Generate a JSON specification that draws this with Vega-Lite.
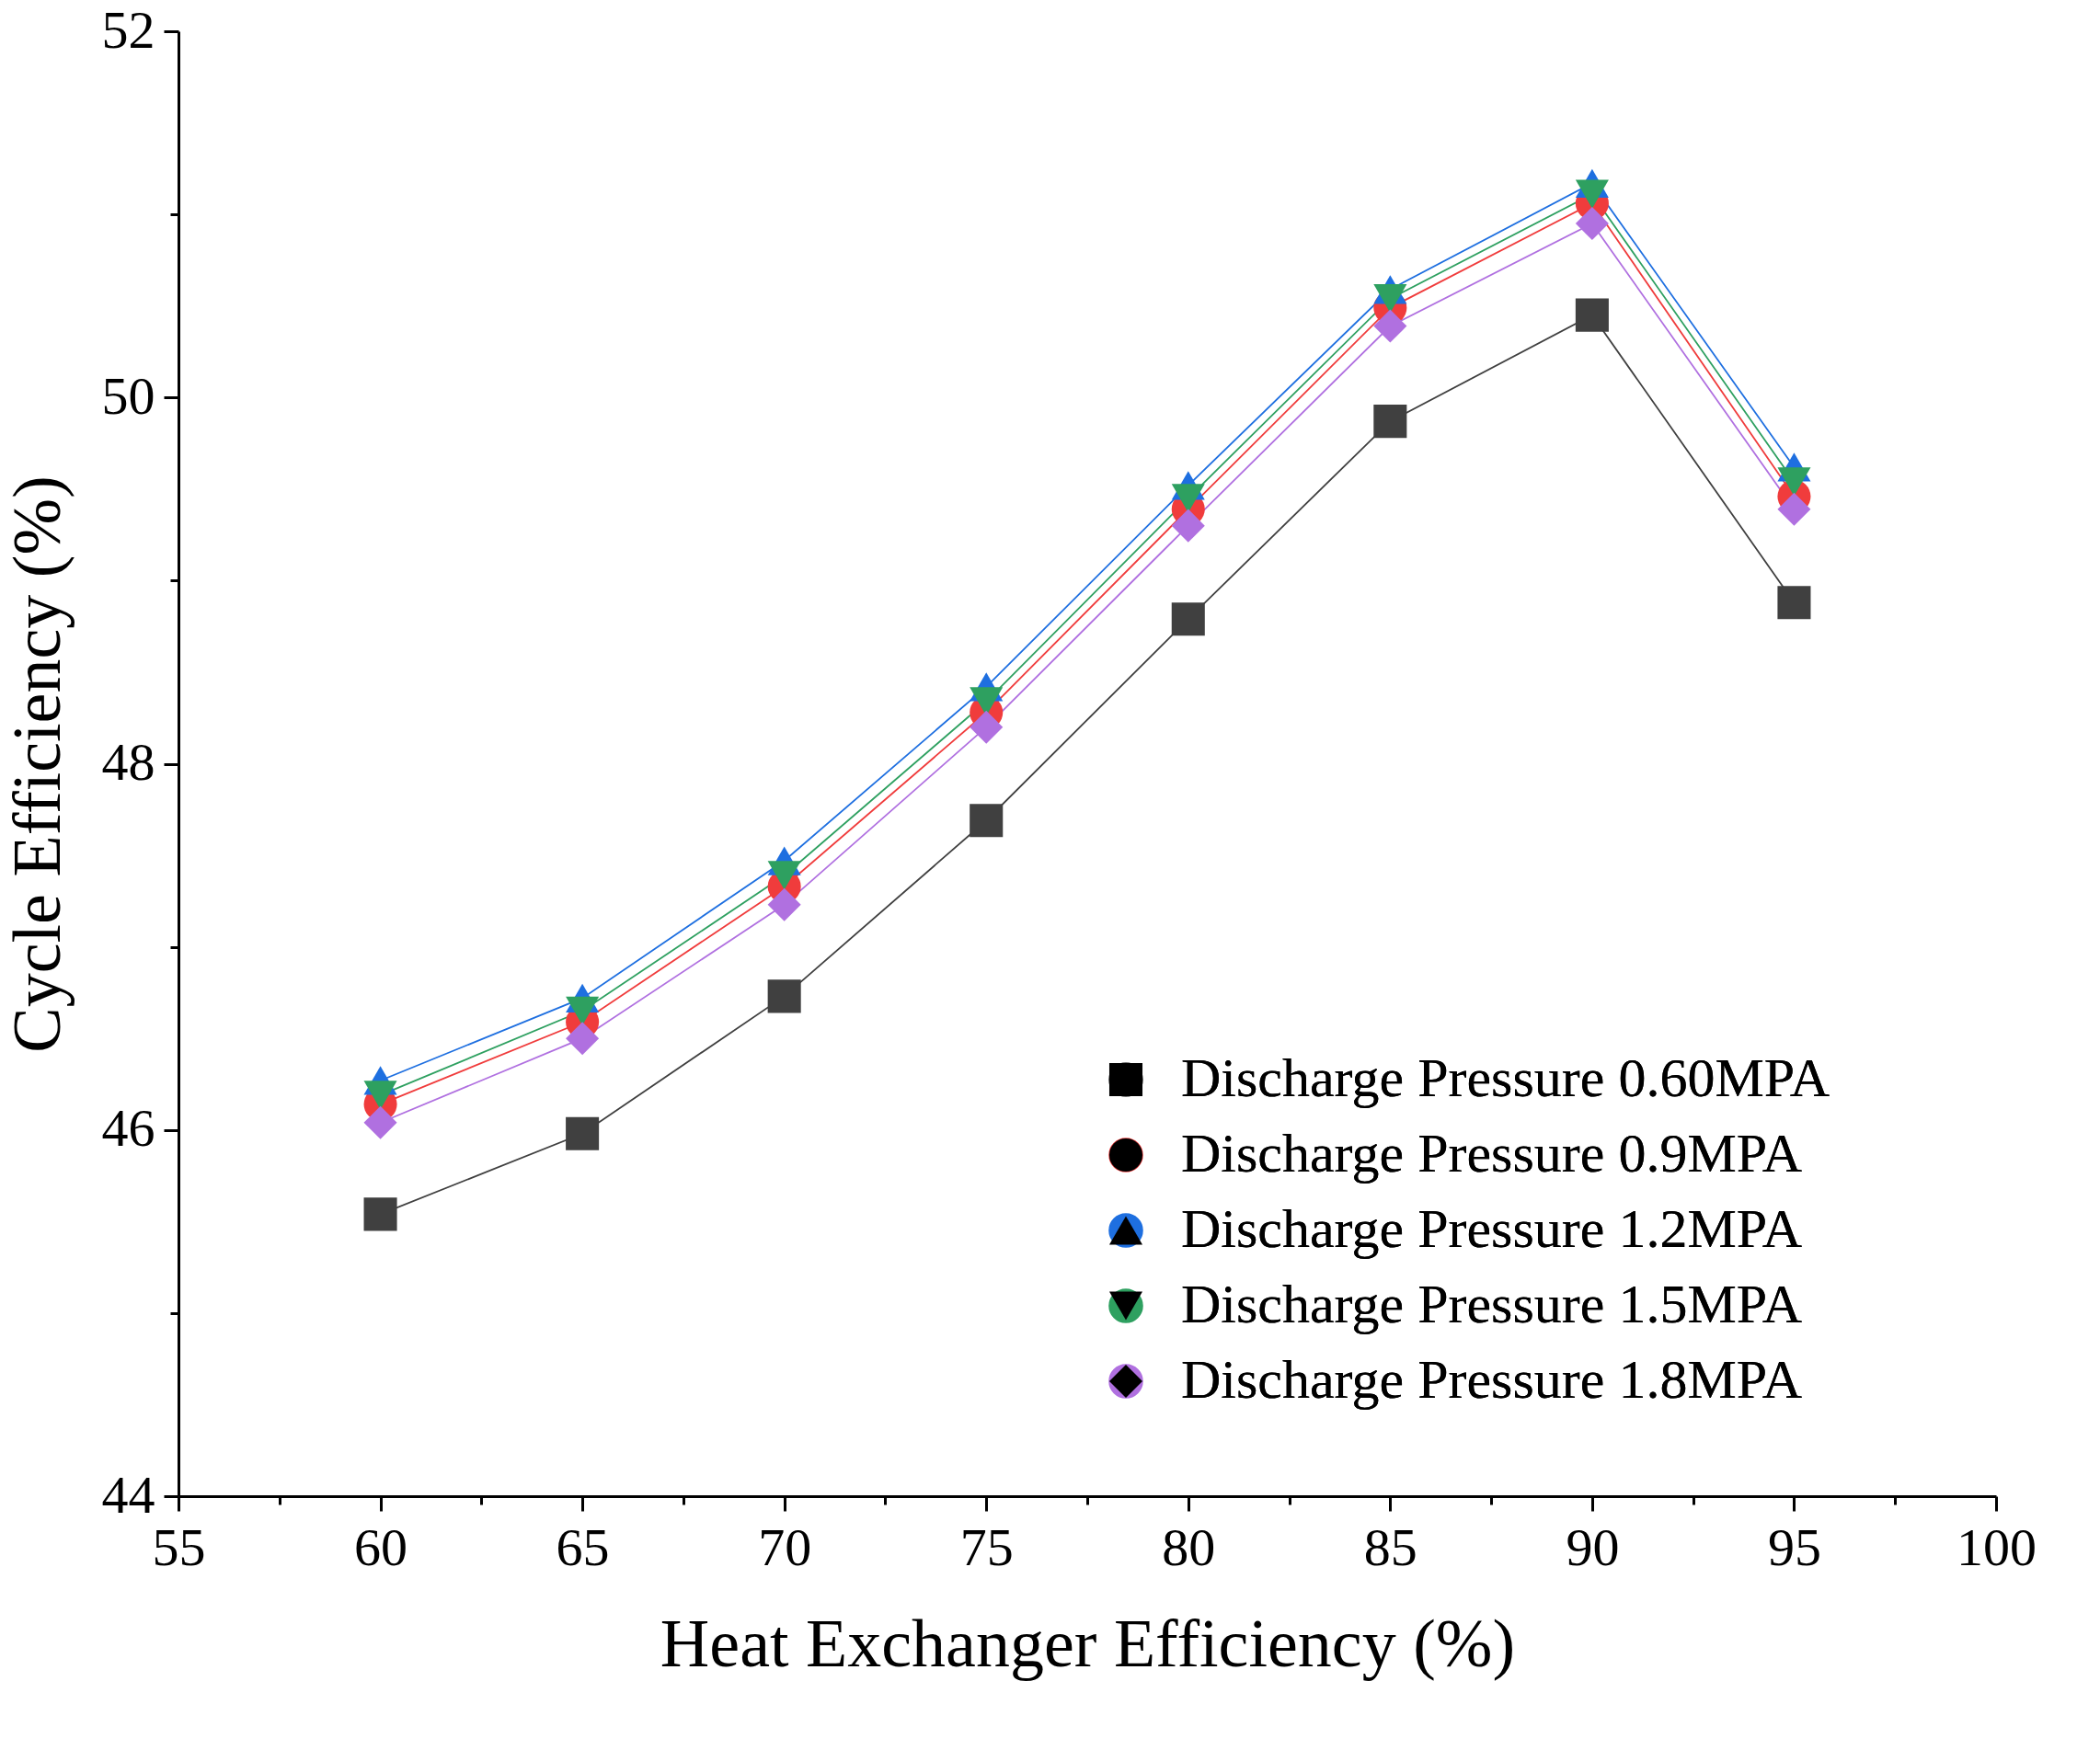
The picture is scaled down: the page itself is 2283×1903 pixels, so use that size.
{
"$schema":"https://vega.github.io/schema/vega-lite/v6.json",
"width":1976,"height":1593,
"background":"white",
"config":{"view":{"stroke":null},"font":"Liberation Serif"},
"data":{"values":[
{"x":60,"s":"Discharge Pressure 0.60MPA","y":45.54},{"x":65,"s":"Discharge Pressure 0.60MPA","y":45.98},{"x":70,"s":"Discharge Pressure 0.60MPA","y":46.73},{"x":75,"s":"Discharge Pressure 0.60MPA","y":47.69},{"x":80,"s":"Discharge Pressure 0.60MPA","y":48.79},{"x":85,"s":"Discharge Pressure 0.60MPA","y":49.87},{"x":90,"s":"Discharge Pressure 0.60MPA","y":50.45},{"x":95,"s":"Discharge Pressure 0.60MPA","y":48.88},
{"x":60,"s":"Discharge Pressure 0.9MPA","y":46.14},{"x":65,"s":"Discharge Pressure 0.9MPA","y":46.59},{"x":70,"s":"Discharge Pressure 0.9MPA","y":47.33},{"x":75,"s":"Discharge Pressure 0.9MPA","y":48.28},{"x":80,"s":"Discharge Pressure 0.9MPA","y":49.39},{"x":85,"s":"Discharge Pressure 0.9MPA","y":50.49},{"x":90,"s":"Discharge Pressure 0.9MPA","y":51.06},{"x":95,"s":"Discharge Pressure 0.9MPA","y":49.46},
{"x":60,"s":"Discharge Pressure 1.2MPA","y":46.27},{"x":65,"s":"Discharge Pressure 1.2MPA","y":46.72},{"x":70,"s":"Discharge Pressure 1.2MPA","y":47.47},{"x":75,"s":"Discharge Pressure 1.2MPA","y":48.42},{"x":80,"s":"Discharge Pressure 1.2MPA","y":49.52},{"x":85,"s":"Discharge Pressure 1.2MPA","y":50.59},{"x":90,"s":"Discharge Pressure 1.2MPA","y":51.17},{"x":95,"s":"Discharge Pressure 1.2MPA","y":49.62},
{"x":60,"s":"Discharge Pressure 1.5MPA","y":46.19},{"x":65,"s":"Discharge Pressure 1.5MPA","y":46.65},{"x":70,"s":"Discharge Pressure 1.5MPA","y":47.39},{"x":75,"s":"Discharge Pressure 1.5MPA","y":48.34},{"x":80,"s":"Discharge Pressure 1.5MPA","y":49.45},{"x":85,"s":"Discharge Pressure 1.5MPA","y":50.54},{"x":90,"s":"Discharge Pressure 1.5MPA","y":51.11},{"x":95,"s":"Discharge Pressure 1.5MPA","y":49.54},
{"x":60,"s":"Discharge Pressure 1.8MPA","y":46.04},{"x":65,"s":"Discharge Pressure 1.8MPA","y":46.5},{"x":70,"s":"Discharge Pressure 1.8MPA","y":47.23},{"x":75,"s":"Discharge Pressure 1.8MPA","y":48.2},{"x":80,"s":"Discharge Pressure 1.8MPA","y":49.3},{"x":85,"s":"Discharge Pressure 1.8MPA","y":50.39},{"x":90,"s":"Discharge Pressure 1.8MPA","y":50.95},{"x":95,"s":"Discharge Pressure 1.8MPA","y":49.39}
]},
"encoding":{
"x":{"field":"x","type":"quantitative","scale":{"domain":[55,100],"nice":false,"zero":false},
 "axis":{"title":"Heat Exchanger Efficiency (%)","values":[55,57.5,60,62.5,65,67.5,70,72.5,75,77.5,80,82.5,85,87.5,90,92.5,95,97.5,100],
 "labelExpr":"datum.value % 5 === 0 ? datum.label : ''","tickSize":{"condition":{"test":"datum.value % 5 === 0","value":16},"value":9},
 "grid":false,"domainColor":"black","domainWidth":3,"tickColor":"black","tickWidth":3,"labelFontSize":58,"labelColor":"black","labelPadding":12,"titleFontSize":74,"titleFontWeight":"normal","titleColor":"black","titlePadding":40,"labelFlush":false}},
"y":{"field":"y","type":"quantitative","scale":{"domain":[44,52],"nice":false,"zero":false},
 "axis":{"title":"Cycle Efficiency (%)","values":[44,45,46,47,48,49,50,51,52],
 "labelExpr":"datum.value % 2 === 0 ? datum.label : ''","tickSize":{"condition":{"test":"datum.value % 2 === 0","value":16},"value":9},
 "grid":false,"domainColor":"black","domainWidth":3,"tickColor":"black","tickWidth":3,"labelFontSize":58,"labelColor":"black","labelPadding":10,"titleFontSize":74,"titleFontWeight":"normal","titleColor":"black","titlePadding":30,"labelFlush":false}},
"color":{"field":"s","type":"nominal","scale":{"range":["#404040","#f03c3c","#1e6fe0","#2ea060","#b070e0"]},
 "legend":{"title":null,"orient":"none","legendX":1000,"legendY":1110,"labelFontSize":60,"labelColor":"black","labelLimit":0,"symbolSize":1300,"rowPadding":22,"labelOffset":30,"symbolOpacity":1}},
"shape":{"field":"s","type":"nominal","scale":{"range":["square","circle","triangle-up","triangle-down","diamond"]},
 "legend":{"title":null,"orient":"none","legendX":1000,"legendY":1110,"labelFontSize":60,"labelColor":"black","labelLimit":0,"symbolSize":1300,"rowPadding":22,"labelOffset":30,"symbolOpacity":1}}
},
"layer":[
{"mark":{"type":"line","strokeWidth":1.8}},
{"mark":{"type":"point","filled":true,"opacity":1,"size":1300}}
]
}
